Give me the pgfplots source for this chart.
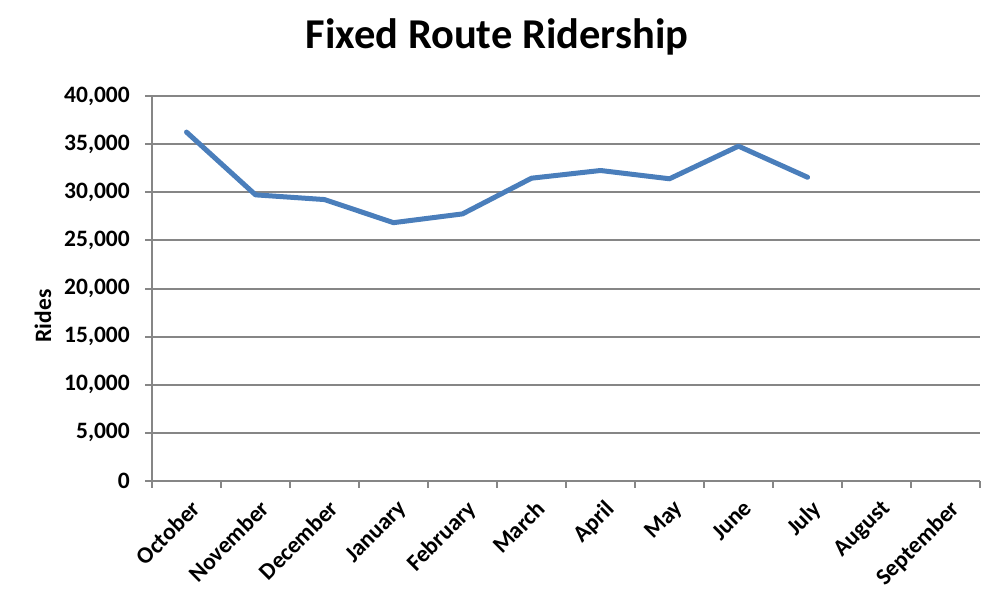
\documentclass[border=0pt]{standalone}
\usepackage{pgfplots}
\pgfplotsset{compat=1.18}
\usepackage{fontspec}
\setmainfont{Carlito}
\definecolor{gridgray}{HTML}{868686}
\definecolor{lineblue}{HTML}{4A7EBB}
\begin{document}
\begin{tikzpicture}
\useasboundingbox (0,0) rectangle (998bp,604bp);
\begin{axis}[
  at={(152bp,123bp)}, anchor=south west,
  scale only axis, width=828bp, height=385bp,
  xmin=0, xmax=12, ymin=0, ymax=40000,
  axis x line*=bottom, axis y line*=left,
  axis line style={draw=gridgray, line width=2bp, -},
  ymajorgrids, grid style={draw=gridgray, line width=2bp},
  tick align=outside, major tick length=7bp,
  tick style={draw=gridgray, line width=2bp},
  xtick={0,1,...,12},
  x tick label as interval=true,
  xticklabels={October,November,December,January,February,March,April,May,June,July,August,September},
  xticklabel style={font=\fontsize{23.5bp}{28bp}\selectfont\bfseries, rotate=45, anchor=north east, inner sep=2bp, yshift=-8bp, xshift=-3bp},
  ytick={0,5000,...,40000},
  yticklabel style={font=\fontsize{23.5bp}{28bp}\selectfont\bfseries, inner sep=2bp, xshift=-13bp},
  /pgf/number format/.cd, fixed, precision=0, 1000 sep={,}, assume math mode=true,
  /pgfplots/.cd,
  scaled y ticks=false,
  clip=false,
]
\addplot[color=lineblue, line width=5bp, line join=round, line cap=round] coordinates {
 (0.5,36250) (1.5,29730) (2.5,29240) (3.5,26840) (4.5,27750)
 (5.5,31460) (6.5,32260) (7.5,31400) (8.5,34790) (9.5,31560)
};
\end{axis}
\node[anchor=base, font=\fontsize{42.5bp}{50bp}\selectfont\bfseries] at (497bp,555bp) {Fixed Route Ridership};
\node[rotate=90, font=\fontsize{23.5bp}{28bp}\selectfont\bfseries] at (43bp,288bp) {Rides};
\end{tikzpicture}
\end{document}
